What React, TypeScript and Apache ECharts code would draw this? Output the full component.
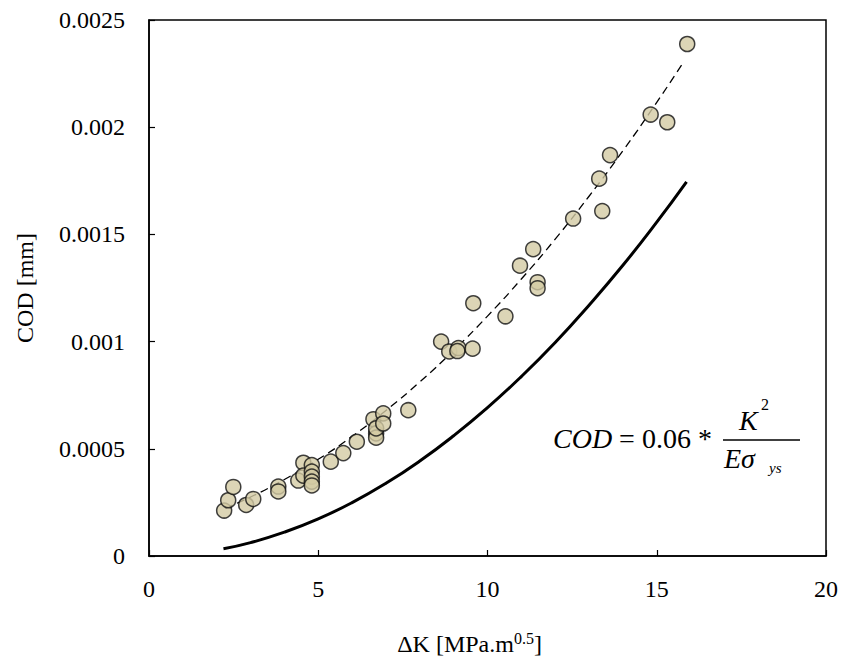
import React, { useEffect, useRef } from "react";
import * as echarts from "echarts";

// Measured data (ΔK, COD)
const kData = [2.22, 2.34, 2.49, 2.87, 3.08, 3.82, 3.82, 4.41, 4.56, 4.56, 4.81, 4.81, 4.81, 4.81, 4.81, 5.37, 5.74, 6.14, 6.63, 6.71, 6.71, 6.71, 6.92, 6.92, 7.66, 8.63, 8.87, 9.14, 9.11, 9.56, 9.58, 10.53, 10.96, 11.35, 11.48, 11.48, 12.53, 13.3, 13.39, 13.62, 14.82, 15.31, 15.9];
const codData = [0.000212, 0.00026, 0.000322, 0.000238, 0.000266, 0.000324, 0.000301, 0.000352, 0.000435, 0.000375, 0.000424, 0.000394, 0.00037, 0.000347, 0.000329, 0.00044, 0.00048, 0.000533, 0.000638, 0.000572, 0.000552, 0.000595, 0.000665, 0.000618, 0.00068, 0.001, 0.000954, 0.00097, 0.000956, 0.000967, 0.001179, 0.001118, 0.001354, 0.001431, 0.001277, 0.001249, 0.001574, 0.00176, 0.001609, 0.00187, 0.002059, 0.002023, 0.002388];

// Dashed trend line
const trendK = [2.25, 3, 4, 5, 6, 7, 8, 9, 10, 11, 12, 13, 14, 15, 15.78];
const trendCod = [0.000223, 0.000275, 0.000357, 0.000451, 0.000558, 0.000679, 0.000812, 0.000959, 0.001119, 0.001292, 0.001478, 0.001678, 0.00189, 0.002116, 0.002301];

// Solid model curve
const modelK = [2.2, 3, 4, 5, 6, 7, 8, 9, 10, 11, 12, 13, 14, 15, 15.88];
const modelCod = [0.0000335, 0.0000623, 0.000111, 0.000173, 0.000249, 0.000339, 0.000443, 0.000561, 0.000692, 0.000837, 0.000996, 0.00117, 0.001356, 0.001557, 0.001745];

const FONT = "Liberation Serif";

export default function App() {
  const ref = useRef<HTMLDivElement>(null);
  useEffect(() => {
    if (!ref.current) return;
    const chart = echarts.init(ref.current, undefined, { renderer: "svg" });
    const pts = kData.map((k, i) => [k, codData[i]]);
    const trend = trendK.map((k, i) => [k, trendCod[i]]);
    const model = modelK.map((k, i) => [k, modelCod[i]]);
    chart.setOption({
      animation: false,
      backgroundColor: "#fff",
      textStyle: { fontFamily: FONT },
      grid: {
        left: 149,
        top: 20,
        width: 677,
        height: 538,
        show: true,
        borderColor: "#000",
        borderWidth: 1.5,
        backgroundColor: "transparent",
      },
      xAxis: {
        type: "value",
        min: 0,
        max: 20,
        interval: 5,
        name: "{n|ΔK [MPa.m}{s|0.5}{n|]}",
        nameLocation: "middle",
        nameGap: 74,
        nameTextStyle: {
          fontFamily: FONT,
          padding: [0, 36, 0, 0],
          rich: {
            n: { fontFamily: FONT, fontSize: 24, color: "#000", verticalAlign: "bottom", lineHeight: 26 },
            s: { fontFamily: FONT, fontSize: 16, color: "#000", verticalAlign: "top", lineHeight: 26, padding: [0, 0, 10, 0] },
          },
        },
        axisLine: { lineStyle: { color: "#000", width: 1.5 } },
        axisTick: { inside: true, length: 6, lineStyle: { color: "#000", width: 1.2 } },
        axisLabel: { fontFamily: FONT, fontSize: 24, color: "#000", margin: 21 },
        splitLine: { show: false },
      },
      yAxis: {
        type: "value",
        min: 0,
        max: 0.0025,
        interval: 0.0005,
        name: "COD [mm]",
        nameLocation: "middle",
        nameGap: 112,
        nameTextStyle: { fontFamily: FONT, fontSize: 24, color: "#000" },
        axisLine: { lineStyle: { color: "#000", width: 1.5 } },
        axisTick: { inside: true, length: 6, lineStyle: { color: "#000", width: 1.2 } },
        axisLabel: {
          fontFamily: FONT,
          fontSize: 24,
          color: "#000",
          margin: 24,
          formatter: (v: number) => String(parseFloat(v.toFixed(4))),
        },
        splitLine: { show: false },
      },
      series: [
        {
          type: "line",
          data: model,
          symbol: "none",
          smooth: true,
          lineStyle: { color: "#000", width: 3 },
          z: 2,
        },
        {
          type: "line",
          data: trend,
          symbol: "none",
          smooth: true,
          lineStyle: { color: "#000", width: 1.3, type: [8, 5] },
          z: 2,
        },
        {
          type: "scatter",
          data: pts,
          symbol: "circle",
          symbolSize: 15,
          itemStyle: { color: "#d3caa4", borderColor: "#111", borderWidth: 1.5 },
          z: 3,
        },
      ],
      graphic: [
        {
          type: "text",
          left: 553,
          top: 424,
          style: {
            text: "{i|COD}{n| = 0.06 *}",
            rich: {
              i: { fontFamily: FONT, fontSize: 28, fontStyle: "italic", fill: "#000" },
              n: { fontFamily: FONT, fontSize: 28, fill: "#000" },
            },
          },
        },
        {
          type: "line",
          shape: { x1: 723, y1: 440, x2: 800, y2: 440 },
          style: { stroke: "#000", lineWidth: 1.5 },
        },
        {
          type: "text",
          left: 739,
          top: 406,
          style: { text: "K", fontFamily: FONT, fontSize: 28, fontStyle: "italic", fill: "#000" },
        },
        {
          type: "text",
          left: 761,
          top: 396,
          style: { text: "2", fontFamily: FONT, fontSize: 16, fill: "#000" },
        },
        {
          type: "text",
          left: 724,
          top: 444,
          style: { text: "Eσ", fontFamily: FONT, fontSize: 28, fontStyle: "italic", fill: "#000" },
        },
        {
          type: "text",
          left: 769,
          top: 460,
          style: { text: "ys", fontFamily: FONT, fontSize: 15, fontStyle: "italic", fill: "#000" },
        },
      ],
    });
    return () => chart.dispose();
  }, []);
  return (
    <div
      ref={ref}
      style={{ position: "absolute", left: 0, top: 0, width: 843, height: 661 }}
    />
  );
}
